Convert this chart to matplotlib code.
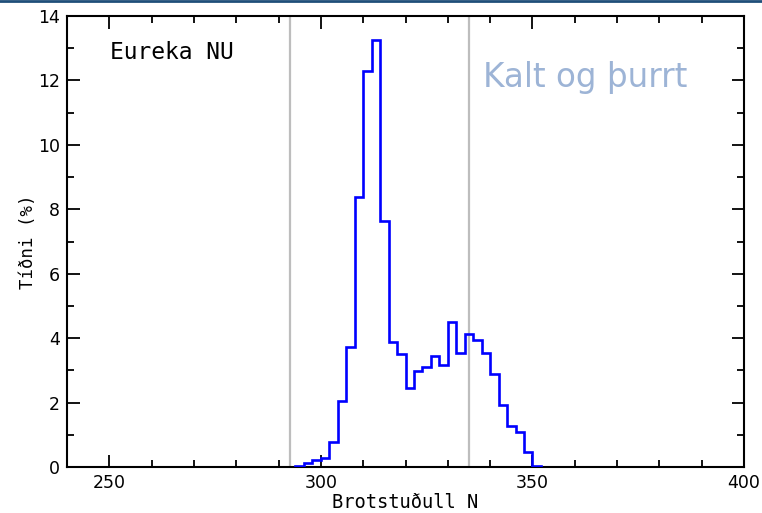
import matplotlib
matplotlib.use("Agg")
import matplotlib.pyplot as plt
from matplotlib.lines import Line2D
import numpy as np

# Histogram of refractivity (bin width 2 N-units)
bin_edges = list(range(294, 354, 2))
frequency_pct = [0.04, 0.13, 0.21, 0.27, 0.77, 2.06, 3.73, 8.39, 12.28, 13.25,
                 7.63, 3.87, 3.52, 2.46, 2.98, 3.10, 3.46, 3.18, 4.50, 3.53,
                 4.14, 3.93, 3.53, 2.90, 1.91, 1.28, 1.10, 0.48, 0.04]

# Reference lines (boundaries of the dry-cold regime)
ref_lines = [292.8, 334.9]

x_ticks = [250, 300, 350, 400]
y_ticks = [0, 2, 4, 6, 8, 10, 12, 14]

station = "Eureka NU"
regime = "Kalt og þurrt"
x_label = "Brotstuðull N"
y_label = "Tíðni (%)"

fig = plt.figure(figsize=(7.62, 5.13), dpi=100)
ax = fig.add_axes([67 / 762, 46 / 513, 677 / 762, 451 / 513])

for xv in ref_lines:
    ax.axvline(xv, color="#bdbdbd", lw=1.6, zorder=1)

ax.stairs(frequency_pct, bin_edges, color="#0000ff", lw=1.9, zorder=3)

ax.set_xlim(240, 400)
ax.set_ylim(0, 14)
ax.set_xticks(x_ticks)
ax.set_yticks(y_ticks)
ax.set_xticks(np.arange(240, 401, 10), minor=True)
ax.set_yticks(np.arange(0, 14.01, 1), minor=True)

ax.tick_params(which="both", direction="in", top=True, right=True, width=1.3,
               colors="black", labelsize=12.5)
ax.tick_params(which="major", length=9, pad=5)
ax.tick_params(which="minor", length=5)
for sp in ax.spines.values():
    sp.set_linewidth(1.5)

ax.set_xlabel(x_label, family="DejaVu Sans Mono", fontsize=13.5, labelpad=1)
ax.set_ylabel(y_label, family="DejaVu Sans Mono", fontsize=12.5, labelpad=1)

ax.text(0.0635, 0.92, station, transform=ax.transAxes, family="DejaVu Sans Mono",
        fontsize=16.5, color="black", va="center", ha="left")
ax.text(0.615, 0.8426, regime, transform=ax.transAxes, family="DejaVu Sans",
        fontsize=23.5, color="#9db4d6", va="baseline", ha="left")

# thin dark banner line along the top edge
fig.add_artist(Line2D([0, 1], [0.998, 0.998], transform=fig.transFigure,
                      color="#1f4e79", lw=2))

fig.savefig("out.png", dpi=100)
